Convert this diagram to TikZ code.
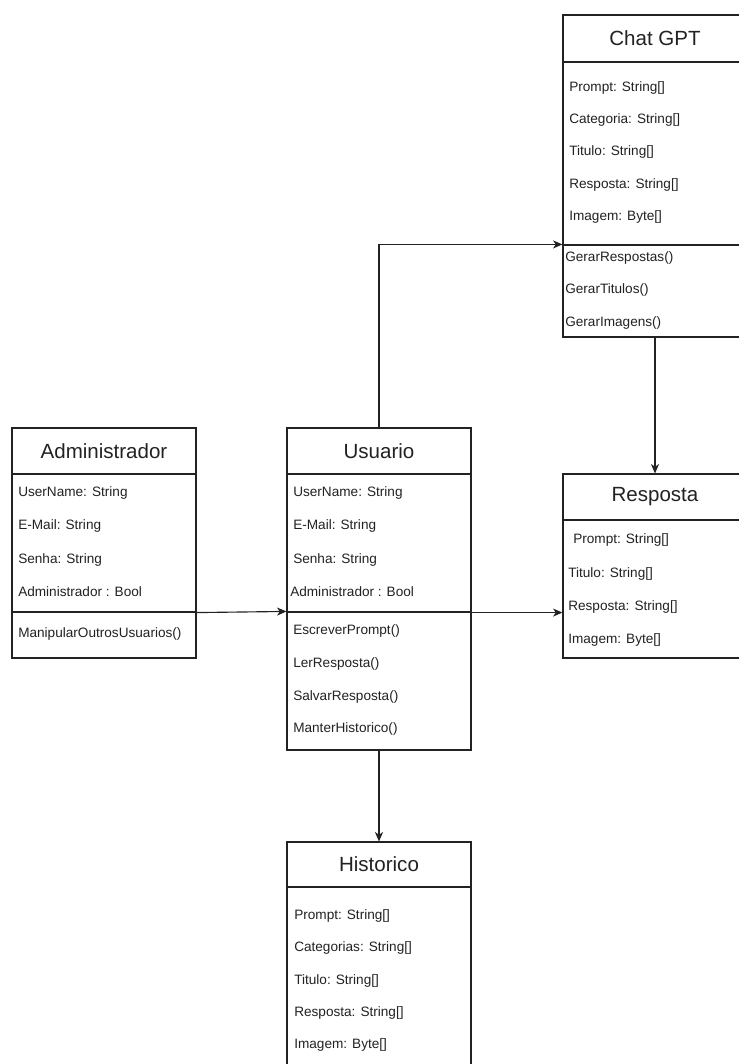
\documentclass[tikz,border=0pt]{standalone}
\usepackage{fontspec}
\setmainfont{Liberation Sans}
\usetikzlibrary{arrows.meta}
\definecolor{ink}{HTML}{222222}
\begin{document}
\begin{tikzpicture}[x=0.75pt,y=-0.75pt,
  comp/.style={draw=ink, line width=0.85pt, rectangle, inner sep=0pt, minimum width=138pt, fill=white},
  ttl/.style={comp, font=\fontsize{15.4}{17}\selectfont, text=ink},
  txt/.style={anchor=west, inner sep=0pt, font=\fontsize{10.2}{12}\selectfont, text=ink},
  arr/.style={draw=ink, line width=0.85pt, -{Stealth[length=7pt,width=6pt,inset=2pt]}}]
\useasboundingbox (0,0) rectangle (739,1064);
\clip (0,0) rectangle (739,1064);
\fill[white] (0,0) rectangle (739,1064);

% Administrador
\node[ttl, minimum height=34.5pt] (admh) at (104,451) {Administrador};
\node[comp, minimum height=103.5pt] (adma) at (104,543) {};
\node[comp, minimum height=34.5pt] (admm) at (104,635) {};
\node[txt] (adm1) at (18,493) {UserName: String};
\node[txt] (adm2) at (18,526) {E-Mail: String};
\node[txt] (adm3) at (18,560) {Senha: String};
\node[txt] (adm4) at (18,592) {Administrador : Bool};
\node[txt] (adm5) at (18,634) {ManipularOutrosUsuarios()};

% Usuario
\node[ttl, minimum height=34.5pt] (usuh) at (379,451) {Usuario};
\node[comp, minimum height=103.5pt] (usua) at (379,543) {};
\node[comp, minimum height=103.5pt] (usum) at (379,681) {};
\node[txt] (usu1) at (293,493) {UserName: String};
\node[txt] (usu2) at (293,526) {E-Mail: String};
\node[txt] (usu3) at (293,560) {Senha: String};
\node[txt] (usu4) at (290,592) {Administrador : Bool};
\node[txt] (usu5) at (293,631) {EscreverPrompt()};
\node[txt] (usu6) at (293,664) {LerResposta()};
\node[txt] (usu7) at (293,697) {SalvarResposta()};
\node[txt] (usu8) at (293,729) {ManterHistorico()};

% Chat GPT
\node[ttl, minimum height=35.25pt] (chath) at (655,38.5) {Chat GPT};
\node[comp, minimum height=137.25pt] (chata) at (655,153.5) {};
\node[comp, minimum height=69pt] (chatm) at (655,291) {};
\node[txt] (cha1) at (569,88) {Prompt: String[]};
\node[txt] (cha2) at (569,120) {Categoria: String[]};
\node[txt] (cha3) at (569,152) {Titulo: String[]};
\node[txt] (cha4) at (569,185) {Resposta: String[]};
\node[txt] (cha5) at (569,217) {Imagem: Byte[]};
\node[txt] (cha6) at (565,258) {GerarRespostas()};
\node[txt] (cha7) at (565,290) {GerarTitulos()};
\node[txt] (cha8) at (565,323) {GerarImagens()};

% Resposta
\node[ttl, minimum height=34.5pt] (resph) at (655,497) {Resposta};
\node[comp, minimum height=103.5pt] (respa) at (655,589) {};
\node[txt] (res1) at (573,540) {Prompt: String[]};
\node[txt] (res2) at (568,574) {Titulo: String[]};
\node[txt] (res3) at (568,607) {Resposta: String[]};
\node[txt] (res4) at (568,640) {Imagem: Byte[]};

% Historico
\node[ttl, minimum height=33.75pt] (histh) at (379,864.5) {Historico};
\node[comp, minimum height=139.5pt] (hista) at (379,980) {};
\node[txt] (his1) at (294,916) {Prompt: String[]};
\node[txt] (his2) at (294,948) {Categorias: String[]};
\node[txt] (his3) at (294,981) {Titulo: String[]};
\node[txt] (his4) at (294,1013) {Resposta: String[]};
\node[txt] (his5) at (294,1045) {Imagem: Byte[]};

% connectors
\draw[arr] (adma.south east) -- (usum.north west);
\draw[arr] (usua.south east) -- (respa.west |- usua.south east);
\draw[arr] (usuh.north) |- (chatm.north west);
\draw[arr] (chatm.south) -- (resph.north);
\draw[arr] (usum.south) -- (histh.north);
\end{tikzpicture}
\end{document}
